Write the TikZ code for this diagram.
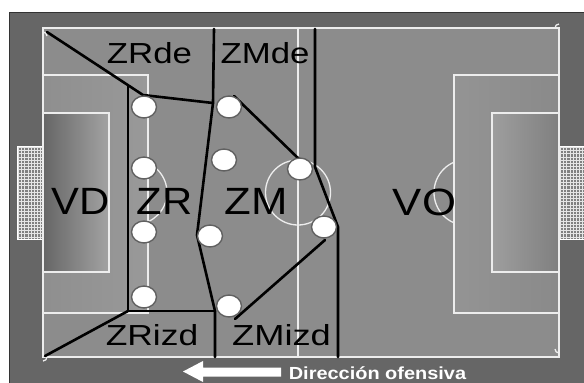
\documentclass[tikz,border=0pt]{standalone}
\usepackage{fontspec}
\setmainfont{Liberation Sans}
\usetikzlibrary{shapes.geometric}
\begin{document}
\begin{tikzpicture}[x=1pt,y=-1pt]
\tikzset{
  pitchline/.style={draw=white!93!black, line width=1.3pt},
  zoneline/.style={draw=black, line width=2.6pt, line cap=round, line join=round},
  player/.style={ellipse, draw=black!62, line width=1.4pt, fill=white, minimum width=25pt, minimum height=22pt, inner sep=0pt},
  biglabel/.style={font=\fontsize{38}{38}\selectfont, anchor=base, inner sep=0pt, text=black},
  smalllabel/.style={font=\fontsize{29}{29}\selectfont, anchor=base, inner sep=0pt, text=black},
  netline/.style={draw=white!90!black, line width=1pt},
}
\useasboundingbox (0,0) rectangle (584,383);
\fill[white] (0,0) rectangle (584,383);
% frame
\fill[black!60] (9.5,12) rectangle (584,383);
\draw[black!80, line width=0.8pt] (9.5,383) -- (9.5,12) -- (584,12);
% field
\fill[black!45] (43,28) rectangle (559,357);
\fill[left color=black!44, right color=black!40] (43,75) rectangle (148,313);
\fill[left color=black!42, right color=black!46] (454,75) rectangle (559,313);
\fill[left color=black!60, right color=black!36] (43,113) rectangle (109,272);
\fill[left color=black!38, right color=black!50] (492,113) rectangle (559,272);
% nets
\fill[black!50] (17,146) rectangle (43,239);
\foreach \i in {0,...,7} \draw[netline] (18.5+\i*3.2,146) -- ++(0,93);
\foreach \j in {0,...,28} \draw[netline] (17,147.5+\j*3.2) -- ++(26,0);
\draw[white, line width=0.9pt] (17,146) rectangle (43,239);
\fill[black!50] (559,146) rectangle (584,239);
\foreach \i in {0,...,7} \draw[netline] (560.5+\i*3.2,146) -- ++(0,93);
\foreach \j in {0,...,28} \draw[netline] (559,147.5+\j*3.2) -- ++(25,0);
\draw[white, line width=0.9pt] (559,146) -- (584,146) (559,239) -- (584,239);
% pitch markings
\draw[pitchline] (43,28) rectangle (559,357);
\draw[pitchline] (298,28) -- (298,357);
\draw[pitchline] (298,192.5) circle (32.5);
\draw[pitchline] (43,75) rectangle (148,313);
\draw[pitchline] (43,113) rectangle (109,272);
\draw[pitchline] (454,75) rectangle (559,313);
\draw[pitchline] (492,113) rectangle (559,272);
\draw[pitchline] (135,192.5) ++(-66:32) arc[start angle=-66, end angle=66, radius=32];
\draw[pitchline] (467,192.5) ++(113:33) arc[start angle=113, end angle=247, radius=33];
\draw[pitchline] (43,32) arc[start angle=-90, end angle=0, radius=4];
\draw[pitchline] (555,28) arc[start angle=180, end angle=270, radius=4];
\draw[pitchline] (47,357) arc[start angle=0, end angle=90, radius=4];
\draw[pitchline] (559,353) arc[start angle=90, end angle=180, radius=4];
% zone boundaries
\coordinate (tl) at (47,32);
\coordinate (a1) at (143,95);
\coordinate (j1) at (213,103);
\coordinate (v1t) at (128,85.2);
\coordinate (v1b) at (128,311);
\coordinate (j2) at (215,311);
\coordinate (bl) at (45,356);
\coordinate (m1t) at (214,29);
\coordinate (k) at (197,235);
\coordinate (m1b) at (215,357);
\coordinate (r1t) at (315,29);
\coordinate (r1m) at (315,167);
\coordinate (r1k) at (338,227);
\coordinate (r1b) at (338,357);
\coordinate (d1s) at (234,96);
\coordinate (d1e) at (300,160);
\coordinate (d2s) at (235,319);
\coordinate (d2e) at (325,240);
\draw[zoneline] (tl) -- (a1) -- (j1);
\draw[zoneline] (m1t) -- (j1) -- (k) -- (j2) -- (m1b);
\draw[zoneline] (v1t) -- (v1b) -- (j2);
\draw[zoneline] (bl) -- (v1b);
\draw[zoneline] (r1t) -- (r1m) -- (r1k) -- (r1b);
\draw[zoneline] (d1s) -- (d1e);
\draw[zoneline] (d2s) -- (d2e);
% players
\node[player] (p1) at (144,107) {};
\node[player] (p2) at (229,107) {};
\node[player] (p3) at (144,168) {};
\node[player] (p4) at (224,160) {};
\node[player] (p5) at (300,169) {};
\node[player] (p6) at (144,232) {};
\node[player] (p7) at (210,236) {};
\node[player] (p8) at (324,227) {};
\node[player] (p9) at (144,297) {};
\node[player] (p10) at (229,306) {};
% labels
\node[smalllabel] (zrde) at (149.5,63) {\scalebox{1.2}[1]{ZRde}};
\node[smalllabel] (zmde) at (265,63) {\scalebox{1.2}[1]{ZMde}};
\node[biglabel] (vd) at (81,214) {\scalebox{1.1}[1]{VD}};
\node[biglabel] (zr) at (164.5,214) {\scalebox{1.1}[1]{ZR}};
\node[biglabel] (zm) at (256.5,214) {\scalebox{1.15}[1]{ZM}};
\node[biglabel] (vo) at (424.5,215) {\scalebox{1.15}[1]{VO}};
\node[smalllabel] (zrizd) at (152,345) {\scalebox{1.22}[1]{ZRizd}};
\node[smalllabel] (zmizd) at (281.5,345) {\scalebox{1.25}[1]{ZMizd}};
% direction arrow
\fill[white] (183,371.5) -- (203,361) -- (203,367.5) -- (281,367.5) -- (281,376.5) -- (203,376.5) -- (203,382) -- cycle;
\node[font=\fontsize{17.5}{17.5}\selectfont\bfseries, text=white, anchor=base, inner sep=0pt] (dir) at (377.5,379.2) {\scalebox{1.14}[1]{Dirección ofensiva}};
\end{tikzpicture}
\end{document}
